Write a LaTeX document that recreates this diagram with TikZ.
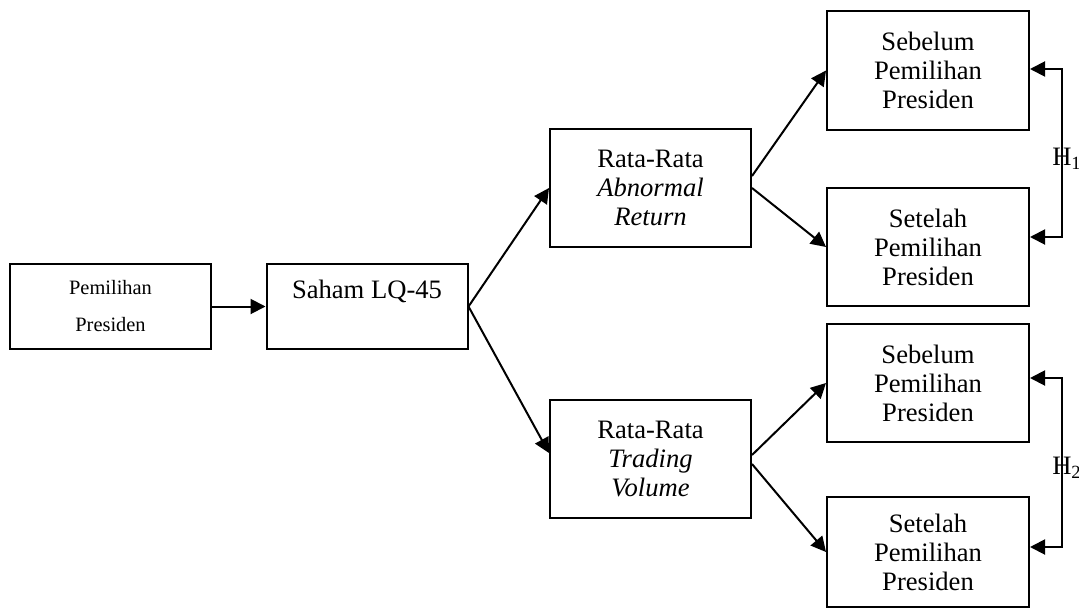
\documentclass[tikz,border=0pt]{standalone}
\usepackage{fontspec}
\setmainfont{Liberation Serif}
\usetikzlibrary{arrows.meta, positioning, calc}

\begin{document}
\begin{tikzpicture}[
    x=0.5pt, y=-0.5pt,
    box/.style={draw=black, line width=1pt, minimum width=100.5pt, inner sep=0pt, align=center, font=\fontsize{13.3}{14.5}\selectfont},
    tall/.style={box, minimum height=59pt},
    rel/.style={-{Triangle[length=7.5pt, width=7.5pt]}, line width=1pt},
    both/.style={{Triangle[length=7.5pt, width=7.5pt]}-{Triangle[length=7.5pt, width=7.5pt]}, line width=1pt},
    hyp/.style={font=\fontsize{13.3}{14.5}\selectfont, inner sep=0pt}
]
\useasboundingbox (0,0) rectangle (1079,610);

% kotak kiri
\node[box, minimum height=42.5pt, font=\fontsize{10.2}{18.5}\selectfont] (election) at (110.5,306.5) {Pemilihan\\Presiden};
\node[box, text height=17pt, text depth=25.5pt] (lq45) at (367,306.5) {Saham LQ-45};

% kotak tengah
\node[tall] (abnormal) at (650.5,188) {Rata-Rata\\\textit{Abnormal}\\\textit{Return}};
\node[tall] (volume)   at (650.5,459) {Rata-Rata\\\textit{Trading}\\\textit{Volume}};

% kotak kanan
\node[tall, minimum width=101pt] (ar_before) at (928,70.5) {Sebelum\\Pemilihan\\Presiden};
\node[tall, minimum width=101pt] (ar_after)  at (928,247)  {Setelah\\Pemilihan\\Presiden};
\node[tall, minimum width=101pt] (tv_before) at (928,383)  {Sebelum\\Pemilihan\\Presiden};
\node[box, minimum width=101pt, minimum height=55pt] (tv_after) at (928,552) {Setelah\\Pemilihan\\Presiden};

% panah utama
\draw[rel] (election) -- (lq45);
\draw[rel] (lq45.east) -- (abnormal.west);
\draw[rel] (lq45.east) -- ([yshift=3pt]volume.west);
\draw[rel] ([yshift=6pt]abnormal.east) -- (ar_before.west);
\draw[rel] (abnormal.east) -- (ar_after.west);
\draw[rel] ([yshift=2pt]volume.east) -- (tv_before.west);
\draw[rel] ([yshift=-2.5pt]volume.east) -- (tv_after.west);

% hipotesis
\draw[both] ([yshift=0.75pt]ar_before.east) -- ++(16pt,0) |- ([yshift=5pt]ar_after.east);
\draw[both] ([yshift=2.5pt]tv_before.east) -- ++(16pt,0) |- ([yshift=2.5pt]tv_after.east);
\node[hyp] (h1) at ($(ar_before.east)!0.5!(ar_after.east)+(18.5pt,0)$) {H\textsubscript{1}};
\node[hyp] (h2) at ($(tv_before.east)!0.5!(tv_after.east)+(18.5pt,0)$) {H\textsubscript{2}};

\end{tikzpicture}
\end{document}
